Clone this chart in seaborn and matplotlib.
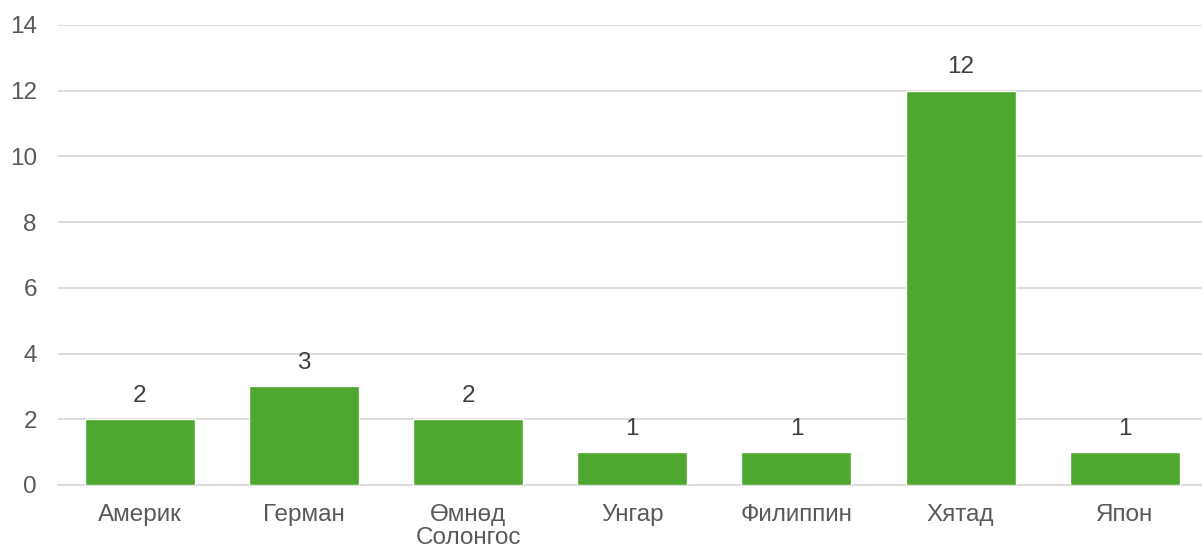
import matplotlib
matplotlib.use("Agg")
import matplotlib.pyplot as plt
import seaborn as sns
import pandas as pd

# values
countries = ["Америк", "Герман", "Өмнөд\nСолонгос", "Унгар", "Филиппин", "Хятад", "Япон"]
counts = [2, 3, 2, 1, 1, 12, 1]
y_ticks = [0, 2, 4, 6, 8, 10, 12, 14]

df = pd.DataFrame({"country": countries, "count": counts})

sns.set_theme(style="white")
plt.rcParams["font.family"] = ["Liberation Sans", "DejaVu Sans"]

fig = plt.figure(figsize=(12.02, 5.49), dpi=100)
ax = fig.add_axes([0.048, 0.1166, 0.956, 0.8379])

sns.barplot(data=df, x="country", y="count", color="#4EA72E", saturation=1,
            width=0.67, ax=ax, zorder=3)

ax.set_ylim(0, 14)
ax.set_xlim(-0.5, 6.5)
ax.set_yticks(y_ticks)
ax.yaxis.grid(True, color="#D9D9D9", linewidth=1.3, zorder=0)
ax.set_axisbelow(True)
for side in ["top", "right", "left"]:
    ax.spines[side].set_visible(False)
ax.spines["bottom"].set_color("#D9D9D9")
ax.spines["bottom"].set_linewidth(1.3)
ax.set_xlabel("")
ax.set_ylabel("")
ax.tick_params(axis="both", length=0, labelsize=17.5, colors="#595959")
ax.tick_params(axis="y", pad=15)
ax.tick_params(axis="x", pad=14)
for lbl in ax.get_xticklabels():
    lbl.set_linespacing(1.04)

for container in ax.containers:
    ax.bar_label(container, padding=9, fontsize=17.5, color="#404040")

plt.savefig("out.png", dpi=100)
plt.close()
